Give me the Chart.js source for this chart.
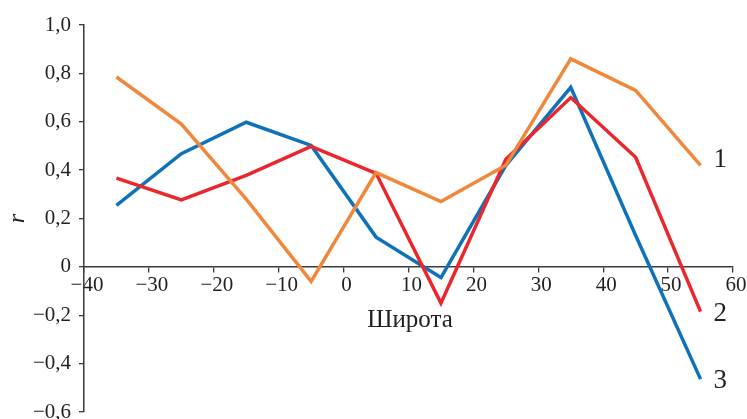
<!DOCTYPE html>
<html>
<head>
<meta charset="utf-8">
<script src="https://cdn.jsdelivr.net/npm/chart.js@4"></script>
<style>
html,body{margin:0;padding:0;background:#fff;}
#wrap{width:747px;height:419px;}
</style>
</head>
<body>
<div id="wrap"><canvas id="c" width="747" height="419"></canvas></div>
<script>
// Latitude (x) of each point
const latitudes = [-35, -25, -15, -5, 5, 15, 25, 35, 45, 55];
// Series values r
const series1 = [0.785, 0.59, 0.28, -0.06, 0.39, 0.27, 0.42, 0.86, 0.73, 0.42];
const series2 = [0.367, 0.277, 0.378, 0.498, 0.387, -0.15, 0.445, 0.70, 0.453, -0.185];
const series3 = [0.254, 0.468, 0.598, 0.502, 0.123, -0.044, 0.42, 0.742, 0.13, -0.464];
const seriesNames = ['1', '2', '3'];
const seriesColors = ['#F0883C', '#E9272C', '#0F72B9'];
const xTicks = [-40, -30, -20, -10, 0, 10, 20, 30, 40, 50, 60];
const yTicks = [-0.6, -0.4, -0.2, 0, 0.2, 0.4, 0.6, 0.8, 1.0];
const xTitle = 'Широта';
const yTitle = 'r';

// style: vertical nudge of the end labels (pixels)
const endLabelDy = [-5, 2, 2];

const toPts = arr => arr.map((v, i) => ({x: latitudes[i], y: v}));
const fmt = (v, dec) => {
  if (Math.abs(v) < 1e-9) return '0';
  let s = Math.abs(v).toFixed(dec).replace('.', ',');
  return (v < 0 ? '\u2212' : '') + s;
};

const axisColor = '#3a3a3a';
const serif = '"Liberation Serif", "DejaVu Serif", serif';

const textPlugin = {
  id: 'texts',
  afterDraw(chart) {
    const ctx = chart.ctx;
    ctx.save();
    ctx.fillStyle = '#231f20';
    // series labels next to last points
    chart.data.datasets.forEach((ds, i) => {
      const meta = chart.getDatasetMeta(i);
      const p = meta.data[meta.data.length - 1];
      ctx.font = '27px ' + serif;
      ctx.textAlign = 'left';
      ctx.textBaseline = 'middle';
      ctx.fillText(seriesNames[i], p.x + 13, p.y + endLabelDy[i]);
    });
    // x title
    ctx.font = '25px ' + serif;
    ctx.textAlign = 'center';
    ctx.textBaseline = 'alphabetic';
    ctx.fillText(xTitle, 410, 327);
    // y title
    ctx.translate(18, chart.chartArea.top + (chart.chartArea.bottom - chart.chartArea.top) / 2);
    ctx.rotate(-Math.PI / 2);
    ctx.font = 'italic 24px ' + serif;
    ctx.textAlign = 'center';
    ctx.textBaseline = 'middle';
    ctx.fillText(yTitle, 0, 0);
    ctx.restore();
  }
};

new Chart(document.getElementById('c'), {
  type: 'line',
  data: {
    datasets: [series1, series2, series3].map((s, i) => ({
      label: seriesNames[i],
      data: toPts(s),
      borderColor: seriesColors[i],
      backgroundColor: seriesColors[i],
      borderWidth: 3.5,
      pointRadius: 0,
      tension: 0,
      fill: false,
      clip: false
    }))
  },
  options: {
    responsive: false,
    animation: false,
    devicePixelRatio: 1,
    layout: {padding: {top: 25, right: 14, bottom: 7, left: 0}},
    plugins: {legend: {display: false}, tooltip: {enabled: false}},
    scales: {
      x: {
        type: 'linear',
        position: {y: 0},
        min: -40, max: 60,
        afterBuildTicks(scale) { scale.ticks = xTicks.map(v => ({value: v})); },
        afterFit(scale) { scale.height = 0; },
        ticks: {
          callback: v => fmt(v, 0),
          font: {family: serif, size: 21},
          color: '#231f20',
          padding: 1,
          labelOffset: 3,
          maxRotation: 0,
          autoSkip: false
        },
        grid: {drawOnChartArea: false, drawTicks: true, tickLength: 5, color: axisColor, lineWidth: 1.3},
        border: {display: true, color: axisColor, width: 1.5}
      },
      y: {
        type: 'linear',
        position: 'left',
        min: -0.6, max: 1.0,
        afterBuildTicks(scale) { scale.ticks = yTicks.map(v => ({value: v})); },
        afterFit(scale) { scale.width = 84; scale.paddingTop = 0; scale.paddingBottom = 0; },
        ticks: {
          callback: v => fmt(v, 1),
          font: {family: serif, size: 21},
          color: '#231f20',
          padding: 8,
          autoSkip: false
        },
        grid: {drawOnChartArea: false, drawTicks: true, tickLength: 5, color: axisColor, lineWidth: 1.3},
        border: {display: true, color: axisColor, width: 1.5}
      }
    }
  },
  plugins: [textPlugin]
});
</script>
</body>
</html>
